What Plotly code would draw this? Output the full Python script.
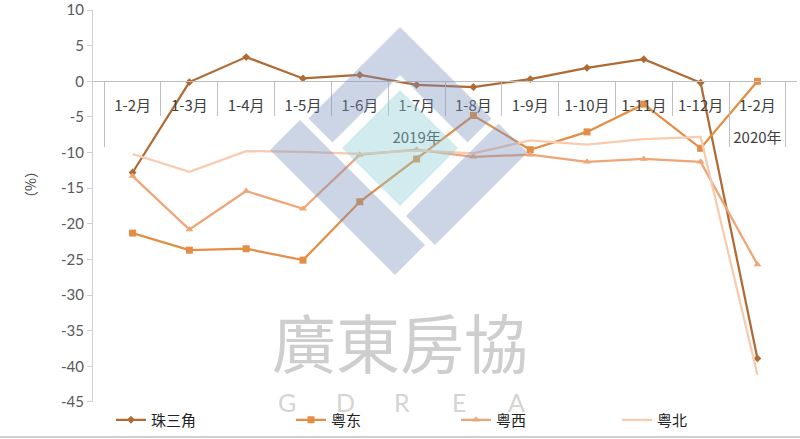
import plotly.graph_objects as go

# ---------------- data ----------------
years = ["<br>2019年"] * 11 + ["<br>2020年"]
months = ["1-2月", "1-3月", "1-4月", "1-5月", "1-6月", "1-7月", "1-8月",
          "1-9月", "1-10月", "1-11月", "1-12月", "1-2月"]

zhusanjiao = [-12.8, -0.1, 3.4, 0.4, 0.9, -0.5, -0.8, 0.3, 1.9, 3.1, -0.2, -38.9]
yuedong = [-21.3, -23.7, -23.5, -25.1, -16.9, -10.9, -4.8, -9.6, -7.1, -3.2, -9.4, 0.0]
yuexi = [-13.3, -20.8, -15.4, -17.9, -10.3, -9.6, -10.6, -10.3, -11.3, -10.9, -11.3, -25.7]
yuebei = [-10.2, -12.7, -9.8, -9.9, -10.2, -9.7, -10.1, -8.3, -8.9, -8.1, -7.8, -41.2]

y_ticks = [10, 5, 0, -5, -10, -15, -20, -25, -30, -35, -40, -45]

# ---------------- layout geometry (pixels) ----------------
W, H = 800, 439
L, R, T, B = 93, 3, 10, 37
PW, PH = W - L - R, H - T - B


def px(x):
    return (x - L) / PW


def py(y):
    return (H - B - y) / PH


x = [years, months]

fig = go.Figure()
fig.add_trace(go.Scatter(x=x, y=zhusanjiao, name="珠三角", mode="lines+markers", legend="legend",
                         line=dict(color="#B06A34", width=2.25),
                         marker=dict(symbol="diamond", size=6, color="#B06A34")))
fig.add_trace(go.Scatter(x=x, y=yuedong, name="粤东", mode="lines+markers", legend="legend2",
                         line=dict(color="#E38D45", width=2.25),
                         marker=dict(symbol="square", size=7, color="#E38D45")))
fig.add_trace(go.Scatter(x=x, y=yuexi, name="粤西", mode="lines+markers", legend="legend3",
                         line=dict(color="#EEA577", width=2.25),
                         marker=dict(symbol="triangle-up", size=7, color="#EEA577")))
fig.add_trace(go.Scatter(x=x, y=yuebei, name="粤北", mode="lines", legend="legend4",
                         line=dict(color="#F6CBAE", width=2.25)))


# ---------------- watermark logo (decoration) ----------------
def diag_poly(s_min, s_max, d_min, d_max):
    # region with s = x + y in [s_min, s_max], d = x - y in [d_min, d_max]
    pts = []
    for s, d in [(s_min, d_min), (s_min, d_max), (s_max, d_max), (s_max, d_min)]:
        X = (s + d) / 2
        Y = (s - d) / 2
        pts.append((px(X), py(Y)))
    return "M " + " L ".join(f"{a:.4f},{b:.4f}" for a, b in pts) + " Z"


def chevron():
    raw = [(400, 27), (308.5, 118.5), (332.5, 142.5), (400, 75), (467.5, 142.5), (491.5, 118.5)]
    return "M " + " L ".join(f"{px(a):.4f},{py(b):.4f}" for a, b in raw) + " Z"


blue = "rgba(120,145,190,0.38)"
teal = "rgba(140,205,212,0.40)"
shapes = [
    dict(type="path", path=chevron(), xref="paper", yref="paper", fillcolor=blue, line=dict(width=0), layer="above"),
    dict(type="path", path=diag_poly(490, 606, 194, 310), xref="paper", yref="paper", fillcolor=teal, line=dict(width=0), layer="above"),
    dict(type="path", path=diag_poly(420, 670, 120, 180), xref="paper", yref="paper", fillcolor=blue, line=dict(width=0), layer="above"),
    dict(type="path", path=diag_poly(622, 680, 190, 375), xref="paper", yref="paper", fillcolor=blue, line=dict(width=0), layer="above"),
    # bottom border of chart area
    dict(type="line", xref="paper", yref="paper", x0=px(0), x1=px(800), y0=py(437), y1=py(437),
         line=dict(color="#BFBFBF", width=1.5)),
]

annotations = [
    dict(text="廣東房協", x=px(400), y=py(340), xref="paper", yref="paper", showarrow=False,
         xanchor="center", yanchor="middle",
         font=dict(size=64, color="rgba(190,190,190,0.75)", family="Noto Sans CJK TC")),
    dict(text="（%）", x=px(30), y=py(185), xref="paper", yref="paper", showarrow=False,
         xanchor="center", yanchor="middle",
         textangle=-90, font=dict(size=14, color="#404040", family="Noto Sans CJK SC")),
]
for ch, cx in zip("GDREA", [287, 345, 402, 459, 516]):
    annotations.append(dict(text=ch, x=px(cx), y=py(402), xref="paper", yref="paper", showarrow=False,
                            xanchor="center", yanchor="middle",
                            font=dict(size=25, color="rgba(200,200,200,0.8)", family="Lato")))


def legend_at(xpix):
    return dict(orientation="h", x=px(xpix), y=py(420), xanchor="left", yanchor="middle",
                font=dict(size=15, color="#222222"), bgcolor="rgba(0,0,0,0)", itemwidth=30)


fig.update_layout(
    width=W, height=H,
    margin=dict(l=L, r=R, t=T, b=B, autoexpand=False),
    paper_bgcolor="white", plot_bgcolor="white",
    font=dict(family="Noto Sans CJK SC", color="#404040"),
    showlegend=True,
    legend=legend_at(111),
    legend2=legend_at(291),
    legend3=legend_at(456),
    legend4=legend_at(617),
    xaxis=dict(type="multicategory", anchor="free", position=(0 - (-45)) / 55,
               showline=True, linecolor="#BFBFBF", linewidth=1,
               ticks="outside", tickson="boundaries", ticklen=34, tickcolor="#BFBFBF",
               ticklabelstandoff=11,
               showdividers=True, dividercolor="#BFBFBF", dividerwidth=1,
               tickfont=dict(size=15, color="#404040"), showgrid=False, zeroline=False),
    yaxis=dict(range=[-45.01, 10.01], tickvals=y_ticks, ticktext=[str(v) for v in y_ticks],
               showline=True, linecolor="#D0D0D0", linewidth=1,
               ticks="outside", ticklen=5, tickcolor="#D0D0D0", ticklabeloverflow="allow",
               tickfont=dict(size=15, color="#595959", family="Lato"), showgrid=False, zeroline=False),
    shapes=shapes,
    annotations=annotations,
)

fig.write_html("out.html", config={"displayModeBar": False},
               post_script="document.body.style.margin='0';document.documentElement.style.overflow='hidden';")
